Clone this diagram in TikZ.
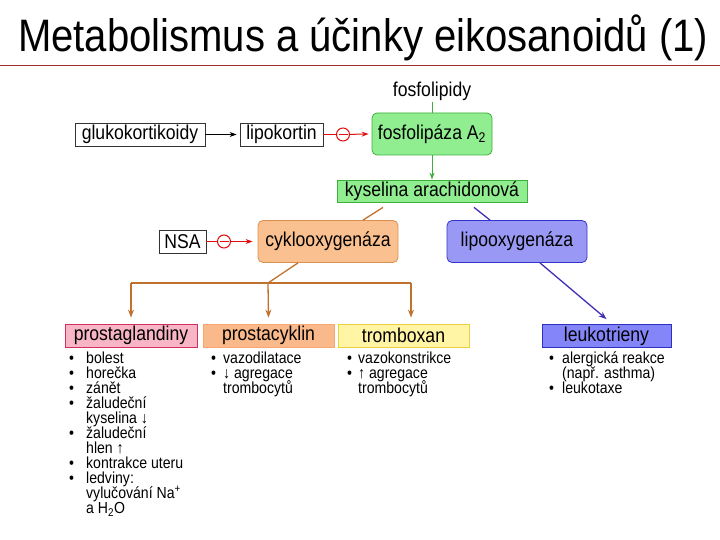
\documentclass[tikz,border=0pt]{standalone}
\usepackage{fontspec}
\setmainfont[FakeStretch=0.88]{Liberation Sans}
\usepackage{xcolor}
\usetikzlibrary{arrows.meta, positioning, calc}
\definecolor{eiGreen}{HTML}{90EE90}
\definecolor{eiGreenD}{HTML}{3DAF3D}
\definecolor{eiOrange}{HTML}{FAC08F}
\definecolor{eiOrangeD}{HTML}{D89050}
\definecolor{eiBlue}{HTML}{9999F5}
\definecolor{eiBlueD}{HTML}{3333CC}
\definecolor{eiPink}{HTML}{F7B5C5}
\definecolor{eiPinkD}{HTML}{D03060}
\definecolor{eiProst}{HTML}{FAB98A}
\definecolor{eiProstD}{HTML}{F5A970}
\definecolor{eiYellow}{HTML}{FFF5A5}
\definecolor{eiYellowD}{HTML}{E8D040}
\definecolor{eiLeuko}{HTML}{8585FA}
\definecolor{eiLeukoD}{HTML}{3030C0}
\definecolor{eiArrow}{HTML}{C0712E}
\definecolor{eiViolet}{HTML}{4030B8}
\definecolor{eiRed}{HTML}{E01010}
\definecolor{eiRule}{HTML}{A03030}
\newcommand{\boxfont}{\fontsize{20}{22}\selectfont}
\newcommand{\listfont}{\fontsize{16}{15}\selectfont\lineskiplimit=-8pt\lineskip=0pt}
\newcommand{\bul}[1]{\makebox[#1][l]{\textbullet}}
\newcommand{\cont}[1]{\hspace*{#1}}
\tikzset{
  einode/.style={
    draw, line width=0.8pt, minimum height=23pt, inner sep=0pt,
    font=\boxfont, align=center
  },
  drugbox/.style={einode, fill=white, draw=black!80},
  enzyme/.style={einode, rounded corners=5pt, minimum height=42pt},
  pla/.style={enzyme, fill=eiGreen, draw=eiGreenD},
  cox/.style={enzyme, fill=eiOrange, draw=eiOrangeD},
  lox/.style={enzyme, fill=eiBlue, draw=eiBlueD},
  acid/.style={einode, fill=eiGreen, draw=eiGreenD, minimum height=22pt},
  pgbox/.style={einode, fill=eiPink, draw=eiPinkD},
  pcbox/.style={einode, fill=eiProst, draw=eiProstD},
  txbox/.style={einode, fill=eiYellow, draw=eiYellowD},
  ltbox/.style={einode, fill=eiLeuko, draw=eiLeukoD},
  inhib/.style={circle, draw=eiRed, line width=1pt, fill=white, minimum size=13pt, inner sep=0pt},
  inhline/.style={line width=1pt, eiRed},
  inharrow/.style={inhline, -{Stealth[length=7pt, width=5pt]}},
  coxflow/.style={line width=1.3pt, eiArrow},
  coxarrow/.style={coxflow, -{Stealth[length=8pt, width=6pt]}},
  loxarrow/.style={line width=1.3pt, eiViolet, -{Stealth[length=8pt, width=6pt]}},
  effects/.style={font=\listfont, anchor=north west, inner sep=0pt, align=left}
}
\begin{document}
\begin{tikzpicture}[x=1pt, y=-1pt]
  \useasboundingbox (0,0) rectangle (720,540);
  % title
  \node[anchor=base west, inner sep=0pt, font=\fontsize{45.5}{50}\selectfont] (title) at (18,52)
    {Metabolismus a účinky eikosanoidů (1)};
  \coordinate (ruleL) at (0,65);
  \coordinate (ruleR) at (720,65);
  \draw[eiRule, line width=0.8pt] (ruleL) -- (ruleR);
  % top of the cascade
  \node[font=\boxfont, inner sep=1pt] (fosfo) at (432,91) {fosfolipidy};
  \node[pla, minimum width=120pt] (pla2) at (432,134) {fosfolipáza A\textsubscript{2}};
  \node[acid, minimum width=190pt] (kys) at (432,191) {kyselina arachidonová};
  \node[drugbox, minimum width=130pt] (gluko) at (140,134.5) {glukokortikoidy};
  \node[drugbox, minimum width=83pt] (lipok) at (281.5,134.5) {lipokortin};
  \node[inhib] (inh1) at (343,134.5) {};
  \draw[eiGreenD, line width=1pt] (fosfo) -- (pla2);
  \draw[eiGreenD, line width=1pt, -{Stealth[length=7pt, width=5pt]}] (pla2) -- (kys);
  \draw[line width=1pt, -{Stealth[length=7pt, width=5pt]}] (gluko) -- ([xshift=-3pt]lipok.west);
  \draw[inhline] (lipok) -- (inh1);
  \draw[inharrow] (inh1) -- ([xshift=-3pt]pla2.west);
  \draw[inhline] ([xshift=-4.5pt]inh1.center) -- ([xshift=4.5pt]inh1.center);
  % enzymes
  \node[cox, minimum width=140pt] (cyklo) at (328,241.5) {cyklooxygenáza};
  \node[lox, minimum width=140pt] (lipo) at (517,241.5) {lipooxygenáza};
  \node[drugbox, minimum width=47pt] (nsa) at (182.5,241.5) {NSA};
  \node[inhib] (inh2) at (224,241.5) {};
  \draw[inhline] (nsa) -- (inh2);
  \draw[inharrow] (inh2) -- ([xshift=-5pt]cyklo.west);
  \draw[inhline] ([xshift=-4.5pt]inh2.center) -- ([xshift=4.5pt]inh2.center);
  \draw[coxflow] ([xshift=-49pt, yshift=-5pt]kys.south) -- ([xshift=35pt]cyklo.north);
  \draw[line width=1.3pt, eiViolet] ([xshift=42pt, yshift=-5pt]kys.south) -- ([xshift=-27pt]lipo.north);
  % products
  \node[pgbox, minimum width=132pt] (pg) at (131,335.5) {prostaglandiny};
  \node[pcbox, minimum width=131pt] (pc) at (268.5,335.5) {prostacyklin};
  \node[txbox, minimum width=131pt] (tx) at (403.5,335.5) {tromboxan};
  \node[ltbox, minimum width=129pt] (lt) at (606.5,336) {leukotrieny};
  \coordinate (jn) at (268,283);
  \coordinate (jl) at (131,283);
  \coordinate (jr) at (411,283);
  \draw[coxflow] ([xshift=-30pt]cyklo.south) -- (jn);
  \draw[coxflow] (jl) -- (jr);
  \draw[coxarrow] (jl) -- ([yshift=6pt]pg.north);
  \draw[coxarrow] (jn) -- ([yshift=6pt]pc.north);
  \draw[coxarrow] (jr) -- ([yshift=6pt]jr |- tx.north);
  \draw[loxarrow] ([xshift=23pt]lipo.south) -- ([yshift=5pt]lt.north);
  % effects
  \node[effects] (pgfx) at (69,352) {%
    \bul{17pt}bolest\\
    \bul{17pt}horečka\\
    \bul{17pt}zánět\\
    \bul{17pt}žaludeční\\
    \cont{17pt}kyselina ↓\\
    \bul{17pt}žaludeční\\
    \cont{17pt}hlen ↑\\
    \bul{17pt}kontrakce uteru\\
    \bul{17pt}ledviny:\\
    \cont{17pt}vylučování Na\textsuperscript{+}\\
    \cont{17pt}a H\textsubscript{2}O};
  \node[effects] (pcfx) at (211,352) {%
    \bul{12pt}vazodilatace\\
    \bul{12pt}↓ agregace\\
    \cont{12pt}trombocytů};
  \node[effects] (txfx) at (347,352) {%
    \bul{11pt}vazokonstrikce\\
    \bul{11pt}↑ agregace\\
    \cont{11pt}trombocytů};
  \node[effects] (ltfx) at (549,352) {%
    \bul{13pt}alergická reakce\\
    \cont{13pt}(např. asthma)\\
    \bul{13pt}leukotaxe};
\end{tikzpicture}
\end{document}
